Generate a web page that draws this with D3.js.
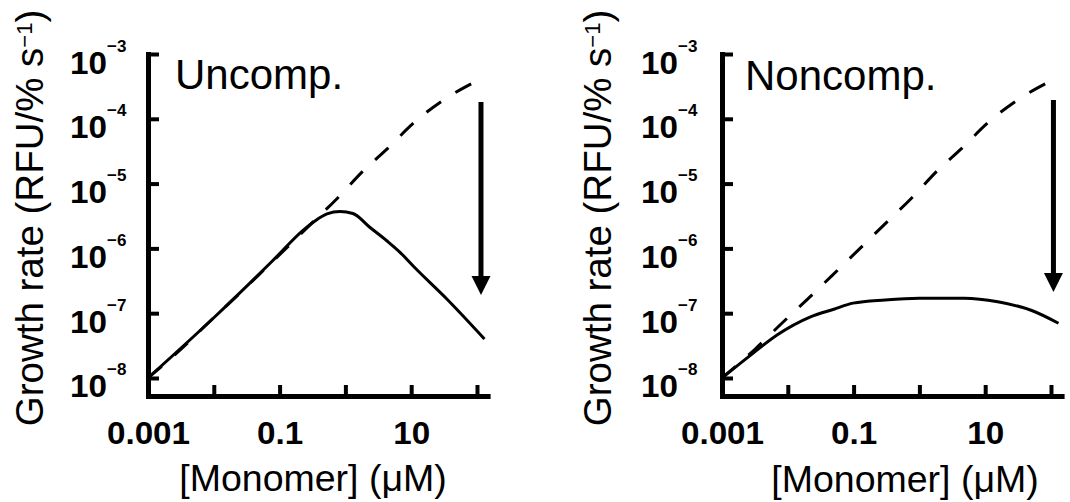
<!DOCTYPE html>
<html>
<head>
<meta charset="utf-8">
<script src="https://cdn.jsdelivr.net/npm/d3@7"></script>
<style>
  html, body { margin: 0; padding: 0; background: #fff; }
  svg { display: block; font-family: "Liberation Sans", Arial, Helvetica, sans-serif; }
</style>
</head>
<body>
<svg id="chart" width="1070" height="502"></svg>
<script>
// ---------- data ----------
const xTickValues = [0.001, 0.01, 0.1, 1, 10, 100];
const xTickLabels = ["0.001", "", "0.1", "", "10", ""];
const yTickValues = [1e-3, 1e-4, 1e-5, 1e-6, 1e-7, 1e-8];
const yTickExponents = ["−3", "−4", "−5", "−6", "−7", "−8"];
const xDomain = [0.001, 145];
const yDomain = [5.27e-9, 1e-3];

const panelTitles = ["Uncomp.", "Noncomp."];
const yAxisTitleMain = "Growth rate (RFU/% s";
const yAxisTitleSup = "−1";
const xAxisTitle = "[Monomer] (μM)";

// uninhibited (dashed) curve, same in both panels
const dashedX = [0.001, 0.0032, 0.0079, 0.02, 0.047, 0.1, 0.27, 0.75, 1.9, 4.4, 11, 31, 93, 130];
const dashedY = [1.0e-8, 2.8e-8, 6.8e-8, 1.65e-7, 3.8e-7, 8.0e-7, 2.15e-6, 5.9e-6, 1.6e-5, 3.5e-5, 8.7e-5, 1.95e-4, 3.7e-4, 4.4e-4];

// uncompetitive inhibition (solid, left)
const uncompX = [0.001, 0.01, 0.079, 0.227, 0.345, 0.525, 0.83, 1.3, 2.37, 4.3, 6.76, 11, 36, 130];
const uncompY = [1.0e-8, 8.5e-8, 6.5e-7, 1.9e-6, 2.65e-6, 3.4e-6, 3.7e-6, 3.45e-6, 2.1e-6, 1.3e-6, 8.7e-7, 5.2e-7, 1.6e-7, 4.0e-8];

// noncompetitive inhibition (solid, right)
const noncompX = [0.001, 0.00295, 0.00686, 0.0217, 0.05, 0.098, 0.3, 1, 4.8, 15.5, 51, 130];
const noncompY = [1.0e-8, 2.4e-8, 4.6e-8, 8.7e-8, 1.15e-7, 1.43e-7, 1.6e-7, 1.7e-7, 1.7e-7, 1.5e-7, 1.1e-7, 7.0e-8];

// arrows: x value, top value, tip value
const arrowX = [115, 109];
const arrowTop = [1.82e-4, 1.95e-4];
const arrowTip = [1.9e-7, 2.12e-7];

// ---------- layout ----------
const panels = [
  { left: 148, right: 487.6, solidX: uncompX, solidY: uncompY, titleX: 175, titleY: 89,
    yTitleX: 43, xTitleX: 313, xTitleY: 491, labelOff: 41 },
  { left: 722, right: 1061.6, solidX: noncompX, solidY: noncompY, titleX: 745, titleY: 90,
    yTitleX: 611, xTitleX: 905, xTitleY: 492, labelOff: 44 }
];
const plotTop = 54, plotBottom = 396;
const FONT = "'Liberation Sans', Arial, Helvetica, sans-serif";
const stretch = 1.09;

const svg = d3.select("#chart");

panels.forEach((p, i) => {
  const x = d3.scaleLog().domain(xDomain).range([p.left, p.right]);
  const y = d3.scaleLog().domain(yDomain).range([plotBottom, plotTop]);
  const g = svg.append("g");

  // x axis
  const xAxis = d3.axisBottom(x)
    .tickValues(xTickValues)
    .tickFormat((d, k) => xTickLabels[k])
    .tickSizeInner(-11).tickSizeOuter(0).tickPadding(26);
  const gx = g.append("g").attr("transform", `translate(0,${plotBottom})`).call(xAxis);
  gx.select(".domain").attr("stroke", "#000").attr("stroke-width", 5).attr("stroke-linecap", "square");
  gx.selectAll(".tick line").attr("stroke", "#000").attr("stroke-width", 4);
  gx.selectAll(".tick text").attr("fill", "#000").attr("font-size", 30.5).attr("font-weight", "bold")
    .attr("font-family", FONT).attr("transform", `scale(${stretch},1)`);

  // y axis
  const yAxis = d3.axisLeft(y)
    .tickValues(yTickValues)
    .tickFormat(() => "")
    .tickSizeInner(-11).tickSizeOuter(0);
  const gy = g.append("g").attr("transform", `translate(${p.left},0)`).call(yAxis);
  gy.select(".domain").attr("stroke", "#000").attr("stroke-width", 5).attr("stroke-linecap", "square");
  gy.selectAll(".tick line").attr("stroke", "#000").attr("stroke-width", 4);
  gy.selectAll(".tick text").remove();
  gy.selectAll(".tick").each(function(d, k) {
    const t = d3.select(this);
    t.append("text").attr("x", -p.labelOff / stretch).attr("y", 19)
      .attr("transform", `scale(${stretch},1)`)
      .attr("text-anchor", "end").attr("font-size", 30.5).attr("font-weight", "bold")
      .attr("fill", "#000").attr("font-family", FONT).text("10");
    t.append("text").attr("x", -p.labelOff).attr("y", -3)
      .attr("text-anchor", "start").attr("font-size", 17).attr("font-weight", "bold")
      .attr("fill", "#000").attr("font-family", FONT).text(yTickExponents[k]);
  });

  // curves
  const line = d3.line()
    .x(d => x(d[0])).y(d => y(d[1]))
    .curve(d3.curveMonotoneX);
  const dashedData = dashedX.map((v, k) => [v, dashedY[k]]);
  const solidData = p.solidX.map((v, k) => [v, p.solidY[k]]);

  g.append("path").datum(dashedData).attr("d", line)
    .attr("fill", "none").attr("stroke", "#000").attr("stroke-width", 3)
    .attr("stroke-dasharray", "18,17");
  g.append("path").datum(solidData).attr("d", line)
    .attr("fill", "none").attr("stroke", "#000").attr("stroke-width", 3);

  // arrow
  const ax = x(arrowX[i]), ay0 = y(arrowTop[i]), ay1 = y(arrowTip[i]);
  const headLen = 19, headW = 19;
  g.append("line").attr("x1", ax).attr("x2", ax).attr("y1", ay0).attr("y2", ay1 - headLen + 2)
    .attr("stroke", "#000").attr("stroke-width", 5);
  g.append("path")
    .attr("d", `M${ax - headW / 2},${ay1 - headLen} L${ax + headW / 2},${ay1 - headLen} L${ax},${ay1} Z`)
    .attr("fill", "#000");

  // panel title
  g.append("text").attr("x", p.titleX).attr("y", p.titleY)
    .attr("font-size", 42).attr("fill", "#000").attr("font-family", FONT).text(panelTitles[i]);

  // y axis title
  const yt = g.append("text")
    .attr("transform", `translate(${p.yTitleX},218) rotate(-90)`)
    .attr("text-anchor", "middle").attr("font-size", 38.5).attr("fill", "#000").attr("font-family", FONT);
  yt.append("tspan").text(yAxisTitleMain);
  yt.append("tspan").attr("font-size", 22).attr("dy", -11).text(yAxisTitleSup);
  yt.append("tspan").attr("dy", 11).text(")");

  // x axis title
  g.append("text").attr("x", p.xTitleX).attr("y", p.xTitleY)
    .attr("text-anchor", "middle").attr("font-size", 37.5).attr("fill", "#000").attr("font-family", FONT)
    .text(xAxisTitle);
});
</script>
</body>
</html>
